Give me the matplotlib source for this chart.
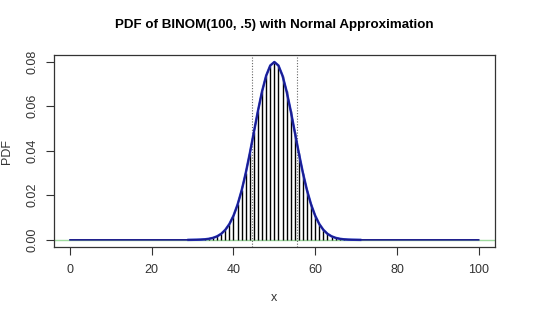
import numpy as np
import matplotlib
matplotlib.use("Agg")
import matplotlib.pyplot as plt

plt.rcParams['font.family'] = ['Liberation Sans', 'DejaVu Sans']

# valores de x: 0..100
x_vals = list(range(0, 101))

pmf_centro = [0.000023, 0.000052, 0.000113, 0.000232, 0.000458, 0.000864, 0.00156,
              0.002698, 0.004474, 0.007111, 0.010844, 0.015869, 0.022292, 0.030069,
              0.038953, 0.048474, 0.057958, 0.06659, 0.073538, 0.078029, 0.079589,
              0.078029, 0.073538, 0.06659, 0.057958, 0.048474, 0.038953, 0.030069,
              0.022292, 0.015869, 0.010844, 0.007111, 0.004474, 0.002698, 0.00156,
              0.000864, 0.000458, 0.000232, 0.000113, 0.000052, 0.000023]
pmf = [0.0] * 30 + pmf_centro + [0.0] * 30

# curva normal aproximada en los mismos puntos enteros
normal_centro = [0.00003, 0.00006, 0.00012, 0.00024, 0.00048, 0.00089, 0.00158,
                 0.00271, 0.00448, 0.00709, 0.0108, 0.01579, 0.02218, 0.02995,
                 0.03884, 0.04839, 0.05794, 0.06664, 0.07365, 0.07821, 0.07979,
                 0.07821, 0.07365, 0.06664, 0.05794, 0.04839, 0.03884, 0.02995,
                 0.02218, 0.01579, 0.0108, 0.00709, 0.00448, 0.00271, 0.00158,
                 0.00089, 0.00048, 0.00024, 0.00012, 0.00006, 0.00003]
normal = [0.0] * 30 + normal_centro + [0.0] * 30

# limites con correccion por continuidad
cortes = [44.5, 55.5]

fig = plt.figure(figsize=(5.4, 3.16), dpi=100)
ax = fig.add_axes([0.0994, 0.2184, 0.8173, 0.6066])

ax.axhline(0, color='#9ed99e', lw=1.0, zorder=1)
ax.vlines(x_vals, 0, pmf, color='black', lw=1.0, zorder=2)
for c in cortes:
    ax.axvline(c, color='#666666', lw=0.8, ls=(0, (1, 1.5)), zorder=2)

ax.plot(x_vals[29:72], normal[29:72], color='#2a3fd0', lw=1.8, zorder=3)
ax.plot(x_vals, normal, color='#1c1c8c', lw=1.2, zorder=4)

ax.set_xlim(-4, 104)
ax.set_ylim(-0.0032, 0.0828)
ax.set_xticks([0, 20, 40, 60, 80, 100])
ax.set_yticks([0.0, 0.02, 0.04, 0.06, 0.08])
ax.set_yticklabels(['0.00', '0.02', '0.04', '0.06', '0.08'], rotation=90, va='center')
ax.tick_params(axis='both', labelsize=9, length=6, width=0.8, color='#333333',
               labelcolor='#333333')
ax.tick_params(axis='x', pad=6)
ax.tick_params(axis='y', pad=5)
for s in ax.spines.values():
    s.set_linewidth(0.9)
    s.set_color('#333333')

ax.set_xlabel('x', fontsize=9, color='#333333', labelpad=12)
ax.set_ylabel('PDF', fontsize=9, color='#333333', labelpad=10)
ax.set_title('PDF of BINOM(100, .5) with Normal Approximation', fontsize=9.6,
             fontweight='bold', pad=20)

fig.savefig('out.png', dpi=100)
